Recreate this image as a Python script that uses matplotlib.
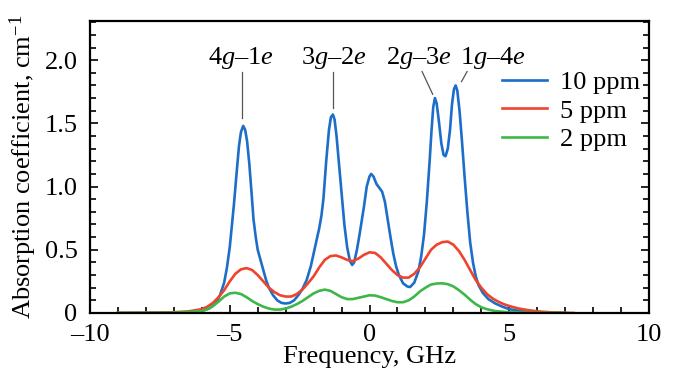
import matplotlib.pyplot as plt
from matplotlib.ticker import MultipleLocator

plt.rcParams['font.family'] = 'Liberation Serif'
plt.rcParams['mathtext.fontset'] = 'custom'
plt.rcParams['mathtext.rm'] = 'Liberation Serif'
plt.rcParams['mathtext.it'] = 'Liberation Serif:italic'

# 10 ppm
blue_x = [-9.0, -8.0, -7.0, -6.5, -6.0, -5.7, -5.5, -5.35, -5.2, -5.1, -5.0, -4.92, -4.85,
          -4.75, -4.67, -4.6, -4.52, -4.45, -4.38, -4.3, -4.22, -4.15, -4.07, -4.0, -3.9,
          -3.8, -3.7, -3.6, -3.45, -3.3, -3.15, -3.0, -2.85, -2.7, -2.55, -2.4, -2.25,
          -2.1, -2.0, -1.9, -1.8, -1.72, -1.65, -1.6, -1.55, -1.45, -1.38, -1.31, -1.25,
          -1.18, -1.1, -1.0, -0.9, -0.8, -0.7, -0.62, -0.55, -0.45, -0.35, -0.2, -0.1,
          0.0, 0.06, 0.14, 0.25, 0.35, 0.45, 0.55, 0.65, 0.75, 0.85, 0.95, 1.05, 1.2,
          1.35, 1.45, 1.6, 1.75, 1.85, 1.95, 2.05, 2.15, 2.22, 2.28, 2.34, 2.4, 2.48,
          2.57, 2.65, 2.72, 2.8, 2.88, 2.95, 3.02, 3.08, 3.14, 3.22, 3.3, 3.4, 3.5, 3.6,
          3.7, 3.8, 3.9, 4.05, 4.25, 4.5, 4.75, 5.0, 5.5, 6.0, 7.0]
blue_y = [0.0, 0.0, 0.0, 0.005, 0.015, 0.04, 0.08, 0.14, 0.24, 0.36, 0.52, 0.7, 0.86,
          1.12, 1.32, 1.43, 1.48, 1.45, 1.36, 1.18, 0.95, 0.74, 0.6, 0.5, 0.42,
          0.34, 0.26, 0.2, 0.14, 0.1, 0.08, 0.075, 0.08, 0.1, 0.14, 0.19, 0.26,
          0.37, 0.47, 0.57, 0.67, 0.77, 0.9, 1.05, 1.2, 1.45, 1.55, 1.57, 1.53,
          1.4, 1.2, 0.95, 0.7, 0.52, 0.41, 0.38, 0.4, 0.5, 0.63, 0.84, 1.0,
          1.08, 1.1, 1.08, 1.02, 0.99, 0.96, 0.88, 0.74, 0.6, 0.47, 0.37, 0.3, 0.235,
          0.21, 0.205, 0.24, 0.33, 0.45, 0.62, 0.88, 1.2, 1.45, 1.63, 1.70, 1.66, 1.52,
          1.34, 1.25, 1.24, 1.3, 1.45, 1.65, 1.77, 1.80, 1.76, 1.6, 1.38, 1.08, 0.8, 0.56,
          0.4, 0.29, 0.22, 0.16, 0.11, 0.075, 0.05, 0.03, 0.012, 0.005, 0.0]

# 5 ppm
red_x = [-9.0, -8.0, -7.0, -6.5, -6.0, -5.8, -5.6, -5.4, -5.2, -5.0, -4.8, -4.6, -4.4,
         -4.2, -4.0, -3.8, -3.6, -3.4, -3.2, -3.0, -2.8, -2.6, -2.4, -2.2, -2.0, -1.8,
         -1.6, -1.4, -1.2, -1.0, -0.8, -0.6, -0.4, -0.2, 0.0, 0.2, 0.4, 0.6, 0.8, 1.0,
         1.2, 1.4, 1.6, 1.8, 2.0, 2.2, 2.4, 2.6, 2.8, 3.0, 3.2, 3.4, 3.6, 3.8, 4.0, 4.2,
         4.4, 4.6, 4.8, 5.0, 5.3, 5.6, 6.0, 6.5, 7.3]
red_y = [0.0, 0.002, 0.006, 0.012, 0.03, 0.05, 0.08, 0.125, 0.18, 0.25, 0.31, 0.345, 0.355,
         0.34, 0.3, 0.25, 0.2, 0.165, 0.14, 0.13, 0.13, 0.15, 0.185, 0.235, 0.29, 0.36,
         0.42, 0.45, 0.455, 0.44, 0.42, 0.41, 0.43, 0.46, 0.48, 0.475, 0.44, 0.39, 0.34, 0.3,
         0.28, 0.28, 0.31, 0.36, 0.43, 0.5, 0.54, 0.56, 0.565, 0.54, 0.49, 0.42, 0.34, 0.26,
         0.2, 0.15, 0.115, 0.09, 0.07, 0.055, 0.037, 0.025, 0.013, 0.005, 0.0]

# 2 ppm
green_x = [-9.0, -7.0, -6.0, -5.8, -5.6, -5.4, -5.2, -5.0, -4.8, -4.6, -4.4, -4.2, -4.0,
           -3.8, -3.6, -3.4, -3.2, -3.0, -2.8, -2.6, -2.4, -2.2, -2.0, -1.8, -1.6, -1.4,
           -1.2, -1.0, -0.8, -0.6, -0.4, -0.2, 0.0, 0.2, 0.4, 0.6, 0.8, 1.0, 1.2, 1.4,
           1.6, 1.8, 2.0, 2.2, 2.4, 2.6, 2.8, 3.0, 3.2, 3.4, 3.6, 3.8, 4.0, 4.2, 4.5,
           5.0, 6.0, 7.0]
green_y = [0.0, 0.002, 0.015, 0.03, 0.055, 0.09, 0.13, 0.155, 0.16, 0.15, 0.125, 0.095, 0.07,
           0.05, 0.035, 0.027, 0.027, 0.035, 0.05, 0.07, 0.095, 0.125, 0.155, 0.175, 0.185, 0.175,
           0.15, 0.125, 0.11, 0.11, 0.12, 0.13, 0.14, 0.138, 0.125, 0.11, 0.095, 0.085, 0.085, 0.1,
           0.13, 0.17, 0.2, 0.225, 0.233, 0.235, 0.228, 0.21, 0.18, 0.145, 0.105, 0.07, 0.045, 0.03, 0.015,
           0.005, 0.001, 0.0]

labels = ['10 ppm', '5 ppm', '2 ppm']
colors = ['#1c6ec8', '#f0432b', '#3db848']

# peak labels: text position, line start, line end
peak_names = [r'4$g$–1$e$', r'3$g$–2$e$', r'2$g$–3$e$', r'1$g$–4$e$']
peak_text_x = [-4.6, -1.28, 1.75, 4.4]
line_x0 = [-4.55, -1.31, 1.88, 3.49]
line_y0 = [1.91, 1.91, 1.91, 1.91]
line_x1 = [-4.55, -1.31, 2.26, 3.29]
line_y1 = [1.54, 1.62, 1.73, 1.83]

fig = plt.figure(figsize=(6.74, 3.76), dpi=100)
ax = fig.add_axes([0.1335, 0.1676, 0.8295, 0.7766])

for xs, ys, c, lab in zip([blue_x, red_x, green_x], [blue_y, red_y, green_y], colors, labels):
    ax.plot(xs, ys, color=c, lw=1.9, label=lab)

for name, tx, x0, y0, x1, y1 in zip(peak_names, peak_text_x, line_x0, line_y0, line_x1, line_y1):
    ax.text(tx, 2.02, name, ha='center', va='center', fontsize=19)
    ax.plot([x0, x1], [y0, y1], color='#555555', lw=0.9)

ax.set_xlim(-10, 10)
ax.set_ylim(0, 2.31)
ax.xaxis.set_major_locator(MultipleLocator(5))
ax.xaxis.set_minor_locator(MultipleLocator(1))
ax.yaxis.set_major_locator(MultipleLocator(0.5))
ax.yaxis.set_minor_locator(MultipleLocator(0.1))
ax.set_yticks([0, 0.5, 1.0, 1.5, 2.0], ['0', '0.5', '1.0', '1.5', '2.0'])
ax.set_xticks([-10, -5, 0, 5, 10], ['–10', '–5', '0', '5', '10'])
ax.tick_params(which='both', direction='in', right=True, top=False, labelsize=19, width=1.2)
ax.tick_params(axis='y', pad=9)
ax.tick_params(axis='x', pad=8)
ax.tick_params(which='major', length=6)
ax.tick_params(which='minor', length=4)
for s in ax.spines.values():
    s.set_linewidth(1.6)

ax.set_xlabel('Frequency, GHz', fontsize=19, labelpad=0)
ax.set_ylabel(r'Absorption coefficient, cm$^{-1}$', fontsize=19, labelpad=4)

ax.legend(loc='upper right', bbox_to_anchor=(1.012, 0.885), frameon=False, fontsize=19,
          handlelength=1.7, handletextpad=0.5, labelspacing=0.2, borderaxespad=0.2)

fig.savefig('out.png', dpi=100)
